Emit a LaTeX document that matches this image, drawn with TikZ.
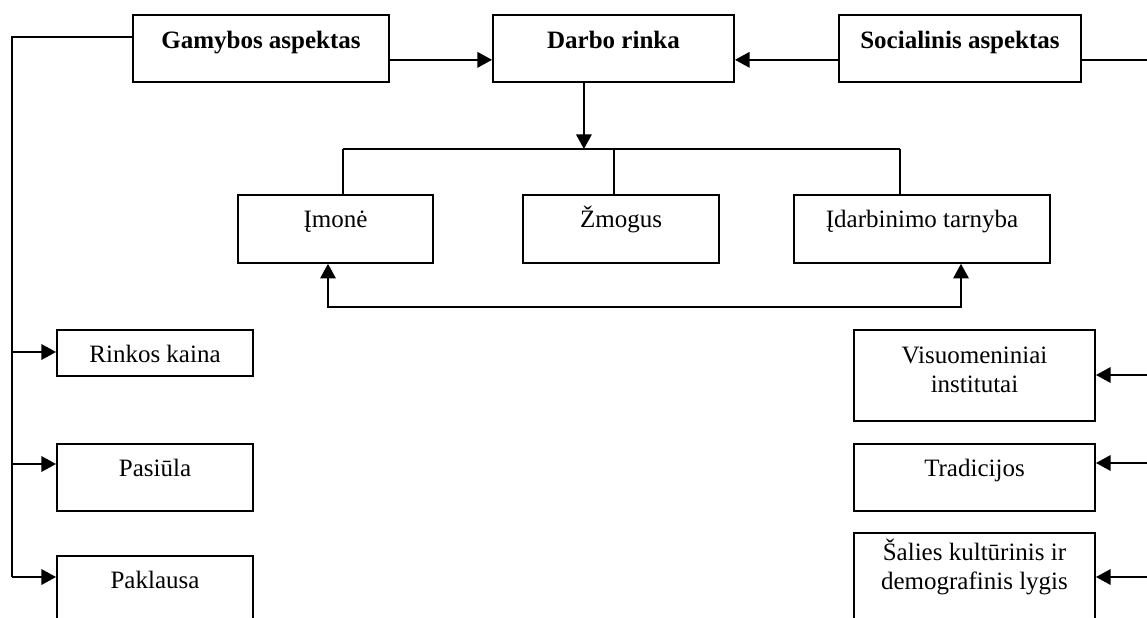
\documentclass[tikz,border=0pt]{standalone}
\usepackage{fontspec}
\setmainfont{Liberation Serif}
\usepackage{tikz}
\usetikzlibrary{arrows.meta,positioning,calc}

\begin{document}
\begin{tikzpicture}[
  x=0.48pt, y=-0.48pt,
  box/.style={
    draw,
    anchor=north,
    inner sep=0pt,
    align=center,
    line width=0.9pt
  },
  aspect/.style={
    box,
    font=\fontsize{12}{13.8}\selectfont\bfseries,
    text height=16.3pt,
    text depth=15.8pt
  },
  actor/.style={
    box,
    text height=15.8pt,
    text depth=16.8pt
  },
  factor/.style={
    box,
    minimum width=94.1pt
  },
  social/.style={
    box,
    minimum width=115.7pt
  },
  link/.style={line width=0.9pt},
  arrow/.style={-{Triangle[length=7pt,width=7.4pt]}, line width=0.9pt},
  sync/.style={{Triangle[length=7pt,width=7.4pt]}-{Triangle[length=7pt,width=7.4pt]}, line width=0.9pt},
  font=\fontsize{12}{13.8}\selectfont
]
\useasboundingbox (0,0) rectangle (1147,618);

\node[aspect, minimum width=122.9pt] (gamyba) at (261,14) {Gamybos aspektas};
\node[aspect, minimum width=115.7pt] (darbo) at (613.5,14) {Darbo rinka};
\node[aspect, minimum width=116.2pt] (socialinis) at (960,14) {Socialinis aspektas};

\node[actor, minimum width=93.6pt] (imone) at (335.5,194) {Įmonė};
\node[actor, minimum width=94.1pt] (zmogus) at (621,194) {Žmogus};
\node[actor, minimum width=122.9pt] (tarnyba) at (922,194) {Įdarbinimo tarnyba};

\node[factor, text height=15.8pt, text depth=6.2pt] (kaina) at (155,329) {Rinkos kaina};
\node[factor, text height=15.8pt, text depth=16.3pt] (pasiula) at (155,443) {Pasiūla};
\node[factor, text height=15.4pt, text depth=16.8pt] (paklausa) at (155,555) {Paklausa};

\node[social, text height=30.1pt, text depth=13.6pt] (institutai) at (974.5,329) {Visuomeniniai\\institutai};
\node[social, text height=15.4pt, text depth=16.8pt] (tradicijos) at (974.5,443) {Tradicijos};
\node[social, text height=27.2pt, text depth=16.4pt] (lygis) at (974.5,532) {Šalies kultūrinis ir\\demografinis lygis};

\coordinate (ltop) at (12,37);
\coordinate (rtop) at (1150,59);
\coordinate (t1) at (343,149);
\coordinate (t2) at (614,149);
\coordinate (t3) at (900,149);
\coordinate (b1) at (328,307);
\coordinate (b2) at (961,307);

\draw[arrow] ([yshift=-5.5pt]gamyba.east) -- ([yshift=-5.5pt]darbo.west);
\draw[arrow] ([yshift=-5.5pt]socialinis.west) -- ([yshift=-5.5pt]darbo.east);
\draw[link] ([yshift=-5.5pt]socialinis.east) -| (rtop |- 0,600);
\draw[arrow] ([xshift=-14.2pt]darbo.south) -- ([xshift=-14.2pt]darbo.south |- t1);

\draw[link] (t1) -- (t3);
\draw[link] (t1) -- (t1 |- imone.north);
\draw[link] (t2) -- (t2 |- zmogus.north);
\draw[link] (t3) -- (t3 |- tarnyba.north);
\draw[sync] (b1 |- imone.south) -- (b1) -- (b2) -- (b2 |- tarnyba.south);

\draw[link] (ltop -| gamyba.west) -- (ltop) -- (ltop |- 0,577);
\draw[arrow] (ltop |- 0,352) -- (kaina.west |- 0,352);
\draw[arrow] (ltop |- 0,464) -- (pasiula.west |- 0,464);
\draw[arrow] (ltop |- 0,577) -- (paklausa.west |- 0,577);

\draw[arrow] (rtop |- 0,375) -- (institutai.east |- 0,375);
\draw[arrow] (rtop |- 0,463) -- (tradicijos.east |- 0,463);
\draw[arrow] (rtop |- 0,577) -- (lygis.east |- 0,577);
\end{tikzpicture}
\end{document}
